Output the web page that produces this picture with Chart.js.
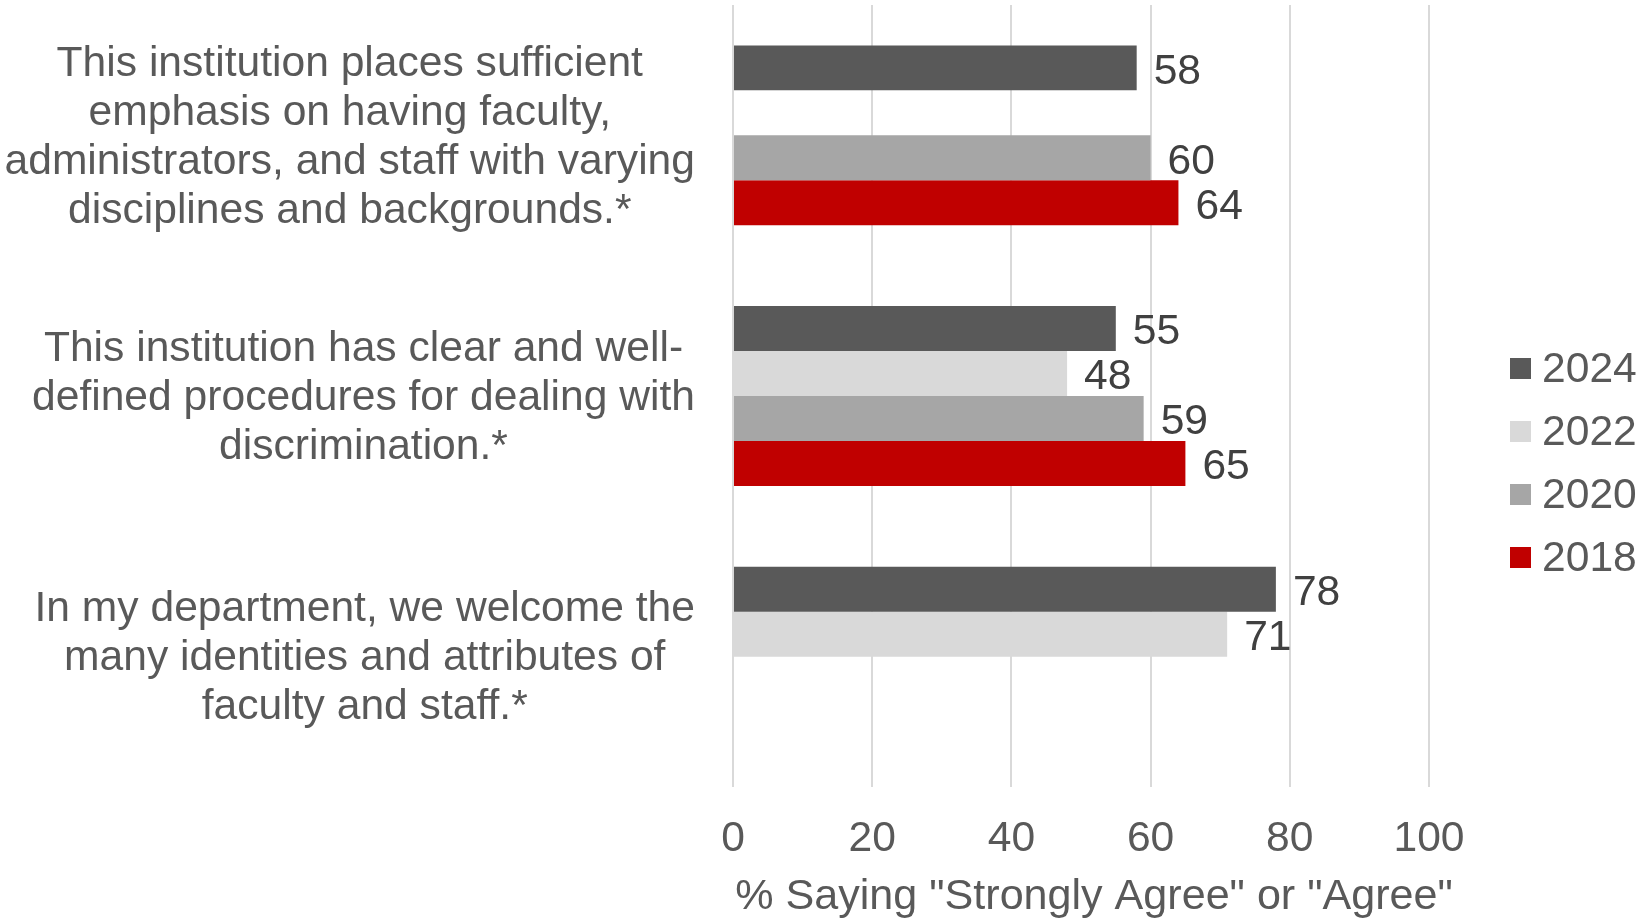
<!DOCTYPE html>
<html lang="en">
<head>
    <meta charset="UTF-8">
    <title>Climate Survey Results</title>
    <script src="https://cdn.jsdelivr.net/npm/chart.js"></script>
    <style>
        body { margin: 0; background: #fff; }
        #wrap { width: 1640px; height: 918px; }
    </style>
</head>
<body>
    <div id="wrap"><canvas id="surveyChart" width="1640" height="918"></canvas></div>
    <script>
        const statements = [
            ['This institution places sufficient', 'emphasis on having faculty,', 'administrators, and staff with varying', 'disciplines and backgrounds.*'],
            ['This institution has clear and well-', 'defined procedures for dealing with', 'discrimination.*'],
            ['In my department, we welcome the', 'many identities and attributes of', 'faculty and staff.*']
        ];
        const years = ['2024', '2022', '2020', '2018'];
        const values2024 = [58, 55, 78];
        const values2022 = [null, 48, 71];
        const values2020 = [60, 59, null];
        const values2018 = [64, 65, null];
        const xTicks = [0, 20, 40, 60, 80, 100];
        const xTitle = '% Saying "Strongly Agree" or "Agree"';
        const colors = ['#595959', '#d9d9d9', '#a6a6a6', '#c00000'];

        const FONT = '"Liberation Sans", Arial, sans-serif';
        const SIZE = 42.6;
        const TEXT = '#595959';

        // category text: each block right-aligned to the axis, lines centred within the block
        const categoryText = {
            id: 'categoryText',
            afterDraw(chart) {
                const ctx = chart.ctx;
                const yScale = chart.scales.y;
                const right = chart.chartArea.left - 38;
                const lineH = 49;
                ctx.save();
                ctx.font = SIZE + 'px ' + FONT;
                ctx.fillStyle = TEXT;
                ctx.textAlign = 'center';
                ctx.textBaseline = 'middle';
                chart.data.labels.forEach((lines, i) => {
                    const yc = yScale.getPixelForTick(i) + 2;
                    const widest = Math.max(...lines.map(l => ctx.measureText(l).width));
                    const xc = right - widest / 2;
                    lines.forEach((line, k) => {
                        ctx.fillText(line, xc, yc + (k - (lines.length - 1) / 2) * lineH);
                    });
                });
                ctx.restore();
            }
        };

        // x axis title, sitting a little right of the plot centre
        const axisTitle = {
            id: 'axisTitle',
            afterDraw(chart) {
                const ctx = chart.ctx;
                ctx.save();
                ctx.font = '43.1px ' + FONT;
                ctx.fillStyle = TEXT;
                ctx.textAlign = 'center';
                ctx.textBaseline = 'middle';
                ctx.fillText(xTitle, 1094, chart.height - 21.3);
                ctx.restore();
            }
        };

        // value labels just past the end of each bar
        const barLabels = {
            id: 'barLabels',
            afterDatasetsDraw(chart) {
                const ctx = chart.ctx;
                ctx.save();
                ctx.font = SIZE + 'px ' + FONT;
                ctx.fillStyle = '#404040';
                ctx.textAlign = 'left';
                ctx.textBaseline = 'middle';
                chart.data.datasets.forEach((ds, i) => {
                    chart.getDatasetMeta(i).data.forEach((bar, j) => {
                        const v = ds.data[j];
                        if (v === null) return;
                        ctx.fillText(String(v), bar.x + 17, bar.y + 4);
                    });
                });
                ctx.restore();
            }
        };

        // legend column on the right
        const sideLegend = {
            id: 'sideLegend',
            afterDraw(chart) {
                const ctx = chart.ctx;
                ctx.save();
                ctx.font = SIZE + 'px ' + FONT;
                ctx.textAlign = 'left';
                ctx.textBaseline = 'middle';
                chart.data.datasets.forEach((ds, i) => {
                    const y = 368 + i * 63;
                    ctx.fillStyle = ds.backgroundColor;
                    ctx.fillRect(1510, y - 10, 21, 21);
                    ctx.fillStyle = TEXT;
                    ctx.fillText(ds.label, 1542, y + 2);
                });
                ctx.restore();
            }
        };

        const seriesValues = [values2024, values2022, values2020, values2018];

        const ctx = document.getElementById('surveyChart').getContext('2d');
        new Chart(ctx, {
            type: 'bar',
            data: {
                labels: statements,
                datasets: years.map((y, i) => ({
                    label: y,
                    data: seriesValues[i],
                    backgroundColor: colors[i],
                    categoryPercentage: 0.69,
                    barPercentage: 1.0
                }))
            },
            options: {
                indexAxis: 'y',
                responsive: false,
                animation: false,
                layout: { padding: { top: 5, right: 211, left: 0, bottom: 0 } },
                scales: {
                    x: {
                        min: 0,
                        max: 100,
                        afterBuildTicks: axis => { axis.ticks = xTicks.map(v => ({ value: v })); },
                        afterFit: axis => { axis.height = 131; },
                        grid: { color: '#d9d9d9', lineWidth: 2, drawTicks: false },
                        border: { display: false },
                        ticks: {
                            padding: 27,
                            color: TEXT,
                            font: { family: FONT, size: SIZE, lineHeight: 1.2 }
                        }
                    },
                    y: {
                        afterFit: axis => {
                            axis.width = 733;
                            axis.paddingTop = 0;
                            axis.paddingBottom = 0;
                        },
                        grid: { display: false, drawTicks: false },
                        border: { display: false },
                        ticks: { display: false }
                    }
                },
                plugins: {
                    legend: { display: false },
                    tooltip: { enabled: false }
                }
            },
            plugins: [barLabels, categoryText, axisTitle, sideLegend]
        });
    </script>
</body>
</html>
